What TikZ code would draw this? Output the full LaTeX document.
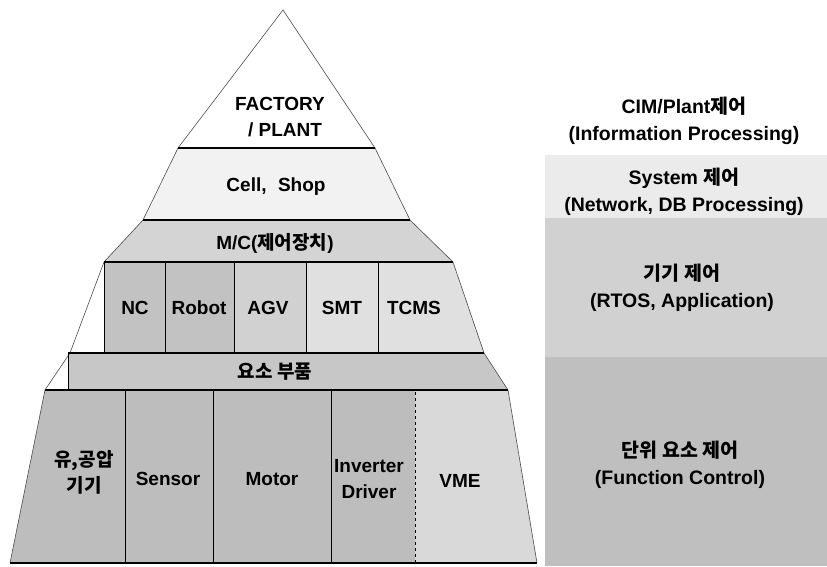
\documentclass[tikz,border=0pt]{standalone}
\usepackage{fontspec}
\setmainfont{Liberation Sans}
\newfontfamily\krfont{Noto Sans CJK KR}
\newcommand{\ko}[1]{{\krfont #1}}
\usetikzlibrary{positioning}

\begin{document}
\begin{tikzpicture}[x=1pt,y=-1pt,
  lbl/.style={font=\bfseries\fontsize{19}{26}\selectfont, align=center, inner sep=1pt},
  side/.style={font=\bfseries\fontsize{19.5}{27}\selectfont, align=center, inner sep=1pt},
  edge/.style={draw=black!70, line width=0.6pt},
  bar/.style={draw=black, line width=2pt},
  sep/.style={draw=black, line width=0.8pt},
]
\useasboundingbox (0,0) rectangle (827,566);
% right panel
\fill[black!8] (545,155) rectangle (827,218);
\fill[black!18] (545,218) rectangle (827,357);
\fill[black!25] (545,357) rectangle (827,566);
% pyramid fills
\fill[black!5] (178,148) -- (375,148) -- (410,220) -- (143,220) -- cycle;
\fill[black!17] (143,220) -- (410,220) -- (453,262) -- (104,262) -- cycle;
\fill[black!24] (104,262) rectangle (234,352);
\fill[black!18] (234,262) rectangle (306,352);
\fill[black!12] (306,262) -- (453,262) -- (484,352) -- (306,352) -- cycle;
\fill[black!22] (68,353) -- (484,353) -- (508,390) -- (68,390) -- cycle;
\fill[black!26] (45,390) -- (415,390) -- (415,563) -- (10,563) -- cycle;
\fill[black!15] (415,390) -- (508,390) -- (537,563) -- (415,563) -- cycle;
% pyramid outline
\draw[edge] (178,148) -- (283,10) -- (375,148);
\draw[edge] (178,148) -- (143,220) -- (104,262) -- (70,353) -- (45,390) -- (10,563);
\draw[edge] (375,148) -- (410,220) -- (453,262) -- (484,353) -- (508,390) -- (537,563);
\draw[bar] (178,148) -- (375,148);
\draw[bar] (143,220) -- (410,220);
\draw[bar, line width=1.4pt] (104,262) -- (453,262);
\draw[bar, line width=2.4pt] (68,353) -- (484,353);
\draw[bar, line width=1.2pt] (45,390) -- (508,390);
\draw[bar, line width=1.4pt] (10,563) -- (537,563);
\draw[sep] (104,262) -- (104,352);
\draw[sep] (68,353) -- (68,390);
% machine cells
\foreach \xx in {165,234,306,378} \draw[sep] (\xx,262) -- (\xx,352);
% component cells
\foreach \xx in {125,213,331} \draw[sep] (\xx,390) -- (\xx,563);
\draw[sep, dashed] (415,392) -- (415,563);
% pyramid labels
\node[lbl] (plant) at (280,117) {FACTORY\\\hspace*{10pt}/ PLANT};
\node[lbl] (cell) at (276,187) {Cell,\hspace{0.6em}Shop};
\node[lbl] (mc) at (275,243) {M/C(\ko{제어장치})};
\node[lbl] (nc) at (135,308) {NC};
\node[lbl] (robot) at (199,308) {Robot};
\node[lbl] (agv) at (268,308) {AGV};
\node[lbl] (smt) at (342,308) {SMT};
\node[lbl] (tcms) at (414,308) {TCMS};
\node[lbl] (parts) at (275,372) {\ko{요소 부품}};
\node[lbl] (air) at (84,472) {\ko{유,공압}\\\ko{기기}};
\node[lbl] (sensor) at (168,479) {Sensor};
\node[lbl] (motor) at (272,479) {Motor};
\node[lbl] (inv) at (369,479) {Inverter\\Driver};
\node[lbl] (vme) at (460,481) {VME};
% control levels
\node[side] (cim) at (684,121) {CIM/Plant\ko{제어}\\(Information Processing)};
\node[side] (sys) at (684,192) {System \ko{제어}\\(Network, DB Processing)};
\node[side] (dev) at (682,288) {\ko{기기 제어}\\(RTOS, Application)};
\node[side] (func) at (680,465) {\ko{단위 요소 제어}\\(Function Control)};
\end{tikzpicture}
\end{document}
